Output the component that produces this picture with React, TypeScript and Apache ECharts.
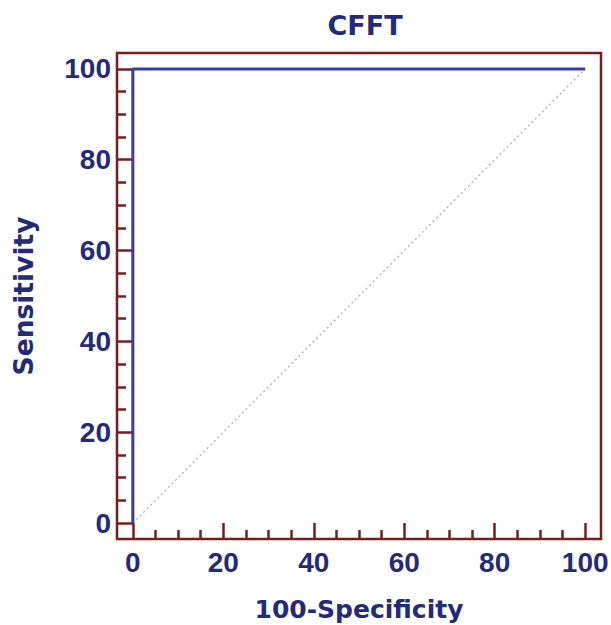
import React, { useEffect, useRef } from "react";
import * as echarts from "echarts";

const rocX = [0, 0, 100];
const rocY = [0, 100, 100];
const refX = [0, 100];
const refY = [0, 100];
const majorTicks = [0, 20, 40, 60, 80, 100];
const minorTicks = [5, 10, 15, 25, 30, 35, 45, 50, 55, 65, 70, 75, 85, 90, 95];

const NAVY = "#232a78";
const FRAME = "#7a1c1c";
const FONT = "Liberation Sans, Arial, sans-serif";
const WIDE = "DejaVu Sans, Verdana, sans-serif";

export default function App() {
  const ref = useRef<HTMLDivElement>(null);
  useEffect(() => {
    const chart = echarts.init(ref.current!, null, { renderer: "svg" });
    const axisBase = (pos: string) => ({
      type: "value",
      min: -3.5,
      max: 103.5,
      position: pos,
      axisLine: { show: false, onZero: false },
      splitLine: { show: false },
    });
    chart.setOption({
      animation: false,
      backgroundColor: "#ffffff",
      title: {
        text: "CFFT",
        left: 360,
        textAlign: "center",
        top: 7,
        textStyle: { color: NAVY, fontSize: 27, fontWeight: "bold", fontFamily: WIDE },
      },
      grid: {
        left: 117,
        top: 53,
        right: 10,
        bottom: 86,
        show: true,
        borderColor: FRAME,
        borderWidth: 2.5,
        backgroundColor: "transparent",
        outerBoundsMode: "none",
        containLabel: false,
      },
      xAxis: [
        {
          ...axisBase("bottom"),
          name: "100-Specificity",
          nameLocation: "middle",
          nameGap: 58,
          nameTextStyle: { color: NAVY, fontSize: 25, fontWeight: "bold", fontFamily: WIDE },
          axisTick: { show: true, inside: true, length: 16, customValues: majorTicks, lineStyle: { color: FRAME, width: 2.5 } },
          axisLabel: { show: true, customValues: majorTicks, margin: 9, color: NAVY, fontSize: 28, fontWeight: "bold", fontFamily: FONT },
        },
        {
          ...axisBase("bottom"),
          axisTick: { show: true, inside: true, length: 9, customValues: minorTicks, lineStyle: { color: FRAME, width: 2.5 } },
          axisLabel: { show: false },
        },
      ],
      yAxis: [
        {
          ...axisBase("left"),
          name: "Sensitivity",
          nameLocation: "middle",
          nameGap: 80,
          nameTextStyle: { color: NAVY, fontSize: 26.5, fontWeight: "bold", fontFamily: WIDE },
          axisTick: { show: true, inside: true, length: 16, customValues: majorTicks, lineStyle: { color: FRAME, width: 2.5 } },
          axisLabel: { show: true, customValues: majorTicks, margin: 6, color: NAVY, fontSize: 28, fontWeight: "bold", fontFamily: FONT },
        },
        {
          ...axisBase("left"),
          axisTick: { show: true, inside: true, length: 9, customValues: minorTicks, lineStyle: { color: FRAME, width: 2.5 } },
          axisLabel: { show: false },
        },
      ],
      series: [
        {
          type: "line",
          data: refX.map((x, i) => [x, refY[i]]),
          symbol: "none",
          lineStyle: { color: "#b9a3a8", width: 1.2, type: [2, 3] },
          silent: true,
          z: 1,
        },
        {
          type: "line",
          data: rocX.map((x, i) => [x, rocY[i]]),
          symbol: "none",
          lineStyle: { color: "#3a3aa6", width: 3 },
          silent: true,
          z: 2,
        },
      ],
    });
    return () => chart.dispose();
  }, []);
  return (
    <div
      ref={ref}
      style={{ position: "absolute", left: 0, top: 0, width: 611, height: 625 }}
    />
  );
}
